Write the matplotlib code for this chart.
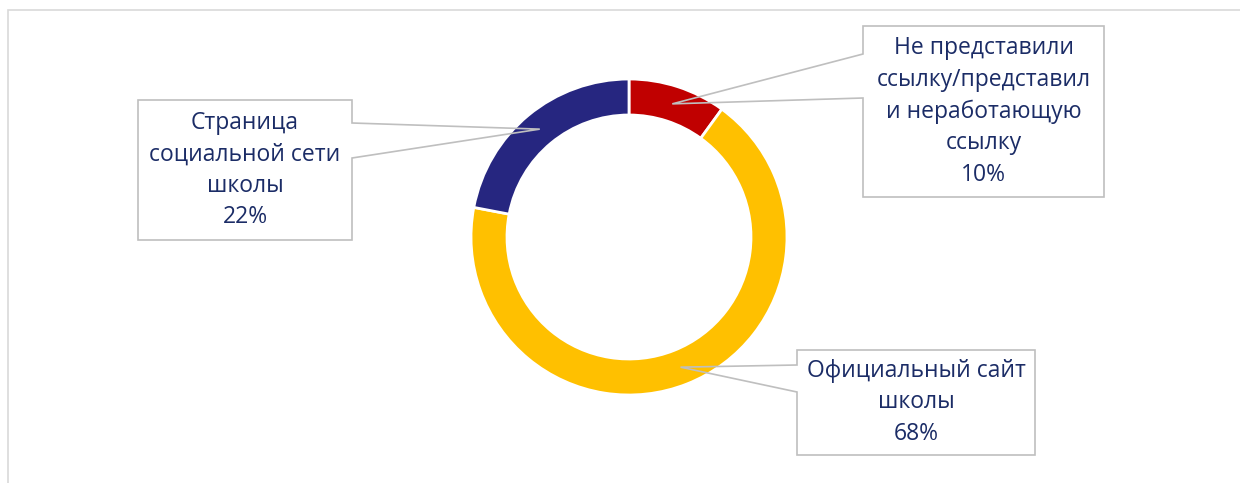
import numpy as np
import matplotlib
matplotlib.use("Agg")
import matplotlib.pyplot as plt
from matplotlib.patches import Polygon, Rectangle

# Chart data
labels = ["Не представили\nссылку/представил\nи неработающую\nссылку",
          "Официальный сайт\nшколы",
          "Страница\nсоциальной сети\nшколы"]
shares = [10, 68, 22]
colors = ["#C00000", "#FFC000", "#262680"]

# Layout (pixels, y measured from top)
W, H = 1240, 483
cx, cy = 629, 237
r_out, ring = 158, 36
# callout boxes: (x0, y0, x1, y1, side, ya, yb)
boxes = [
    (863, 26, 1104, 197, "left", 54, 98),
    (797, 350, 1035, 455, "left", 365, 392),
    (138, 100, 352, 240, "right", 123, 158),
]
text_col = "#1B2C66"
edge_col = "#BFBFBF"

plt.rcParams["font.family"] = ["Open Sans", "DejaVu Sans"]

fig = plt.figure(figsize=(W / 100, H / 100), dpi=100)
ax = fig.add_axes([0, 0, 1, 1])


def fy(y):
    return H - y


wedges, _ = ax.pie(shares, colors=colors, startangle=90, counterclock=False,
                   radius=r_out, center=(cx, fy(cy)),
                   wedgeprops=dict(width=ring, edgecolor="white", linewidth=2))

ax.set_xlim(0, W)
ax.set_ylim(0, H)
ax.set_aspect("equal")
ax.axis("off")

# outer chart frame
ax.add_patch(Rectangle((8, fy(H + 20)), W + 20, H + 10, fill=False,
                       edgecolor="#D9D9D9", linewidth=1.2, zorder=0))

total = sum(shares)
start = 0.0
r_mid = r_out - ring / 2
for lab, val, (x0, y0, x1, y1, side, ya, yb) in zip(labels, shares, boxes):
    # pointer tip sits in the middle of the slice
    a = np.deg2rad((start + val / 2) / total * 360)
    start += val
    tx = cx + r_mid * np.sin(a)
    ty = cy - r_mid * np.cos(a)
    ax.add_patch(Rectangle((x0, fy(y1)), x1 - x0, y1 - y0, facecolor="white",
                           edgecolor="none", zorder=3))
    if side == "left":
        pts = [(x0, y0), (x1, y0), (x1, y1), (x0, y1), (x0, yb), (tx, ty), (x0, ya)]
    else:
        pts = [(x0, y0), (x1, y0), (x1, ya), (tx, ty), (x1, yb), (x1, y1), (x0, y1)]
    ax.add_patch(Polygon([(px, fy(py)) for px, py in pts], closed=True,
                         facecolor="none", edgecolor=edge_col, linewidth=1.2, zorder=4))
    ax.text((x0 + x1) / 2, fy((y0 + y1) / 2), f"{lab}\n{val}%", ha="center",
            va="center", fontsize=16.5, color=text_col, linespacing=1.42, zorder=5)

fig.savefig("out.png", dpi=100, facecolor="white")
